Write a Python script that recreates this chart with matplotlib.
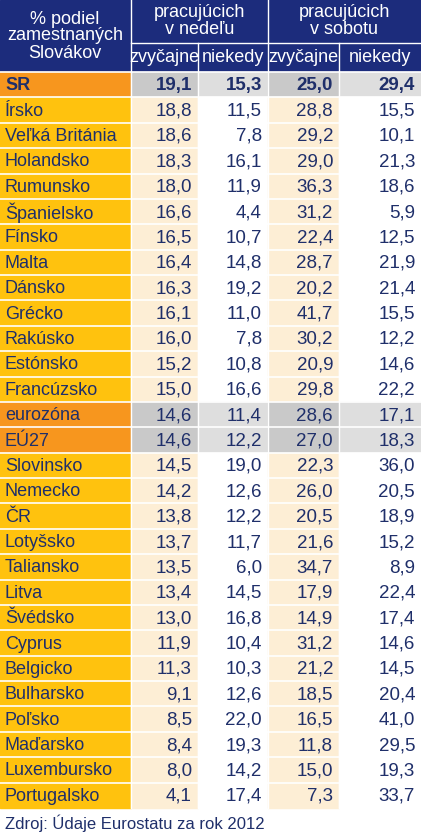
import matplotlib.pyplot as plt
from matplotlib.patches import Rectangle

plt.rcParams['font.family'] = ['Liberation Sans Narrow', 'Liberation Sans', 'DejaVu Sans']

countries = ['SR', 'Írsko', 'Veľká Británia', 'Holandsko', 'Rumunsko', 'Španielsko',
             'Fínsko', 'Malta', 'Dánsko', 'Grécko', 'Rakúsko', 'Estónsko', 'Francúzsko',
             'eurozóna', 'EÚ27', 'Slovinsko', 'Nemecko', 'ČR', 'Lotyšsko', 'Taliansko',
             'Litva', 'Švédsko', 'Cyprus', 'Belgicko', 'Bulharsko', 'Poľsko', 'Maďarsko',
             'Luxembursko', 'Portugalsko']
sun_usual = [19.1, 18.8, 18.6, 18.3, 18.0, 16.6, 16.5, 16.4, 16.3, 16.1, 16.0, 15.2, 15.0,
             14.6, 14.6, 14.5, 14.2, 13.8, 13.7, 13.5, 13.4, 13.0, 11.9, 11.3, 9.1, 8.5, 8.4, 8.0, 4.1]
sun_some = [15.3, 11.5, 7.8, 16.1, 11.9, 4.4, 10.7, 14.8, 19.2, 11.0, 7.8, 10.8, 16.6,
            11.4, 12.2, 19.0, 12.6, 12.2, 11.7, 6.0, 14.5, 16.8, 10.4, 10.3, 12.6, 22.0, 19.3, 14.2, 17.4]
sat_usual = [25.0, 28.8, 29.2, 29.0, 36.3, 31.2, 22.4, 28.7, 20.2, 41.7, 30.2, 20.9, 29.8,
             28.6, 27.0, 22.3, 26.0, 20.5, 21.6, 34.7, 17.9, 14.9, 31.2, 21.2, 18.5, 16.5, 11.8, 15.0, 7.3]
sat_some = [29.4, 15.5, 10.1, 21.3, 18.6, 5.9, 12.5, 21.9, 21.4, 15.5, 12.2, 14.6, 22.2,
            17.1, 18.3, 36.0, 20.5, 18.9, 15.2, 8.9, 22.4, 17.4, 14.6, 14.5, 20.4, 41.0, 29.5, 19.3, 33.7]
highlight = ['SR', 'eurozóna', 'EÚ27']

NAVY = '#1c2c7c'
TXT = '#1f2f6a'
ORANGE = '#f7961e'
YELLOW = '#ffc20e'
CREAM = '#fdeed5'

W, H = 421, 838
fig = plt.figure(figsize=(W / 100, H / 100), dpi=100)
ax = fig.add_axes([0, 0, 1, 1])
ax.set_xlim(0, W)
ax.set_ylim(H, 0)
ax.axis('off')

xs = [0, 131, 198, 268, 339, 421]
h1, h2 = 43, 72
rh = (808 - h2) / len(countries)

# header
ax.add_patch(Rectangle((0, 0), W, h2, color=NAVY))
ax.plot([131, 131], [0, h2], color='white', lw=1)
ax.plot([268, 268], [0, h2], color='white', lw=1)
for x in (198, 339):
    ax.plot([x, x], [h1, h2], color='white', lw=1)
ax.plot([131, W], [h1, h1], color='white', lw=1)
hk = dict(color='white', fontsize=13, ha='center', va='center')
ax.text(65, 36, '% podiel\nzamestnaných\nSlovákov', linespacing=1.0, **hk)
ax.text((131 + 268) / 2, 21, 'pracujúcich\nv nedeľu', linespacing=1.0, **hk)
ax.text((268 + 421) / 2, 21, 'pracujúcich\nv sobotu', linespacing=1.0, **hk)
for i, lab in enumerate(['zvyčajne', 'niekedy', 'zvyčajne', 'niekedy']):
    ax.text((xs[i + 1] + xs[i + 2]) / 2, 58, lab, **hk)

# rows
for r, name in enumerate(countries):
    y = h2 + r * rh
    hl = name in highlight
    ax.add_patch(Rectangle((0, y), xs[1], rh, color=ORANGE if hl else YELLOW))
    vals = [sun_usual[r], sun_some[r], sat_usual[r], sat_some[r]]
    for c in range(4):
        if hl:
            fc = '#c9c9c9' if c % 2 == 0 else '#dedede'
        else:
            fc = CREAM if c % 2 == 0 else 'white'
        ax.add_patch(Rectangle((xs[c + 1], y), xs[c + 2] - xs[c + 1], rh, color=fc))
        ax.text(xs[c + 2] - 6, y + rh / 2 + 1, f'{vals[c]:.1f}'.replace('.', ','),
                ha='right', va='center', fontsize=13.5, color=TXT,
                fontweight='bold' if name == 'SR' else 'normal')
    ax.text(5, y + rh / 2 + 1, name, ha='left', va='center', fontsize=13, color=TXT,
            fontweight='bold' if name == 'SR' else 'normal')
    ax.plot([0, W], [y, y], color='white', lw=1.2)
for x in xs[1:-1]:
    ax.plot([x, x], [h2, 808], color='white', lw=1)

ax.text(5, 823, 'Zdroj: Údaje Eurostatu za rok 2012', ha='left', va='center',
        fontsize=12, color=TXT)

fig.savefig('out.png', dpi=100)
